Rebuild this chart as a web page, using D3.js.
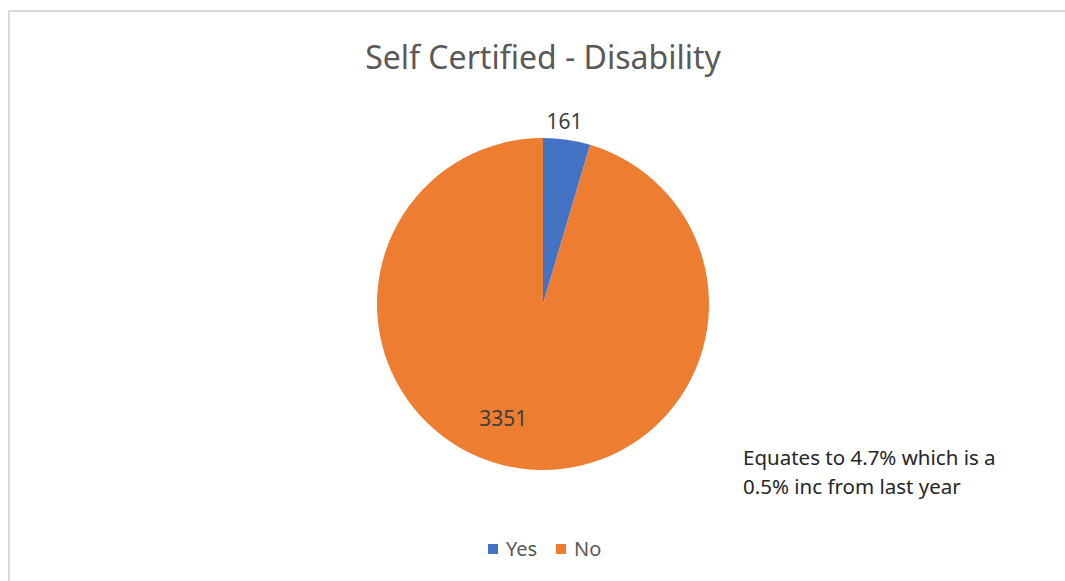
<!DOCTYPE html>
<html>
<head>
  <title>Self Certified - Disability</title>
  <style>
    body { margin: 0; background: #fff; }
    text { font-family: "Noto Sans", "Open Sans", sans-serif; }
  </style>
</head>
<body>
  <script src="https://cdn.jsdelivr.net/npm/d3@7/dist/d3.min.js"></script>
  <script>
    // chart data
    var categories = ["Yes", "No"];
    var counts = [161, 3351];
    var colours = ["#4472c4", "#ed7d31"];
    var note = ["Equates to 4.7% which is a", "0.5% inc from last year"];

    var width = 1065, height = 581;
    var cx = 543, cy = 304, radius = 166;

    var svg = d3.select("body").append("svg")
        .attr("width", width)
        .attr("height", height);

    // chart area border (only top and left visible in crop)
    svg.append("rect")
        .attr("x", 9).attr("y", 11)
        .attr("width", width + 20).attr("height", height + 20)
        .attr("fill", "#fff")
        .attr("stroke", "#d9d9d9")
        .attr("stroke-width", 2);

    svg.append("text")
        .attr("x", cx)
        .attr("y", 69)
        .attr("text-anchor", "middle")
        .attr("fill", "#595959")
        .style("font-size", "32px")
        .text("Self Certified - Disability");

    var data = categories.map(function(c, i) { return {name: c, value: counts[i]}; });

    var pie = d3.pie().sort(null).value(function(d) { return d.value; });
    var arc = d3.arc().innerRadius(0).outerRadius(radius);
    var colour = d3.scaleOrdinal().domain(categories).range(colours);

    var g = svg.append("g").attr("transform", "translate(" + cx + "," + cy + ")");
    var arcs = pie(data);

    g.selectAll("path")
      .data(arcs)
      .enter()
      .append("path")
        .attr("d", arc)
        .attr("fill", function(d) { return colour(d.data.name); });

    // data labels: small slice outside, big slice inside
    var outerLabel = d3.arc().innerRadius(radius + 18).outerRadius(radius + 18);
    var innerLabel = d3.arc().innerRadius(radius * 0.7).outerRadius(radius * 0.7);

    g.selectAll("text.lbl")
      .data(arcs)
      .enter()
      .append("text")
        .attr("class", "lbl")
        .attr("transform", function(d) {
          var p = d.data.value < 500 ? outerLabel.centroid(d) : innerLabel.centroid(d);
          return "translate(" + p[0] + "," + p[1] + ")";
        })
        .attr("dx", function(d) { return d.data.value < 500 ? -5 : -23; })
        .attr("dy", "0.35em")
        .attr("text-anchor", "middle")
        .attr("fill", "#404040")
        .style("font-size", "21px")
        .text(function(d) { return d.data.value; });

    // annotation
    svg.append("text")
        .attr("x", 743)
        .attr("y", 465)
        .attr("fill", "#262626")
        .style("font-size", "20.5px")
        .selectAll("tspan")
        .data(note)
        .enter()
        .append("tspan")
          .attr("x", 743)
          .attr("dy", function(d, i) { return i === 0 ? 0 : 29; })
          .text(function(d) { return d; });

    // legend
    var legend = svg.append("g").attr("transform", "translate(488,549)");
    var offsets = [0, 68];
    var item = legend.selectAll("g")
      .data(categories)
      .enter()
      .append("g")
        .attr("transform", function(d, i) { return "translate(" + offsets[i] + ",0)"; });
    item.append("rect")
        .attr("x", 0).attr("y", -5)
        .attr("width", 10).attr("height", 10)
        .attr("fill", function(d) { return colour(d); });
    item.append("text")
        .attr("x", 18)
        .attr("dy", "0.35em")
        .attr("fill", "#595959")
        .style("font-size", "20px")
        .text(function(d) { return d; });
  </script>
</body>
</html>
